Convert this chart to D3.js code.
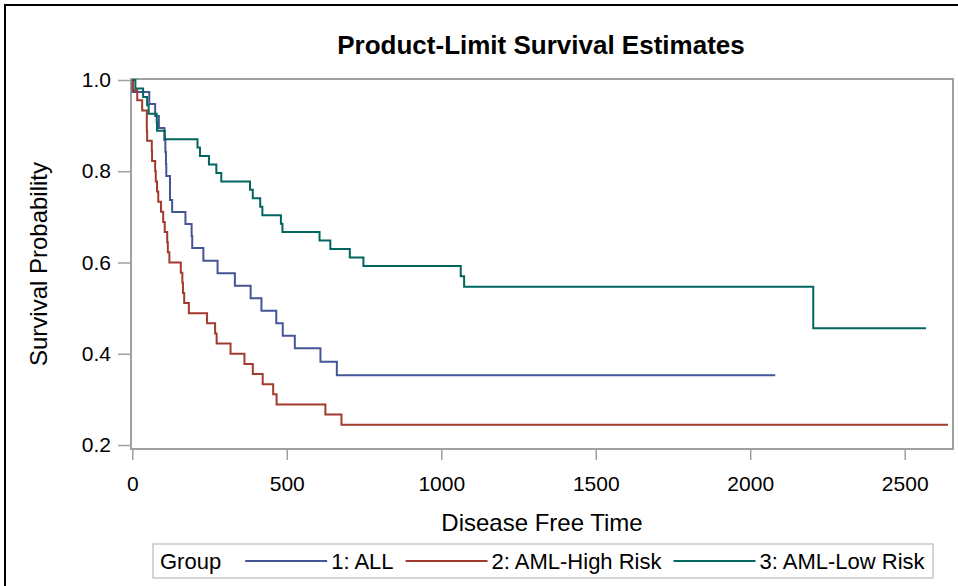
<!DOCTYPE html>
<html>
<head>
<meta charset="utf-8">
<script src="https://cdn.jsdelivr.net/npm/d3@7"></script>
<style>
  html, body { margin: 0; padding: 0; background: #fff; }
  svg { display: block; }
  text { font-family: "Liberation Sans", Arial, sans-serif; fill: #000; }
</style>
</head>
<body>
<svg id="chart" width="958" height="586"></svg>
<script>
// ---- Data (Kaplan-Meier step values) ----
const groups = ["1: ALL", "2: AML-High Risk", "3: AML-Low Risk"];
const groupColors = ["#445694", "#A23A2E", "#01665E"];

// ALL
const allTimes = [0, 1, 55, 74, 86, 104, 107, 109, 110, 122, 129, 172, 192, 194, 230, 276, 332, 383, 418, 466, 487, 526, 609, 662, 2081];
const allSurv  = [1, 0.9737, 0.9474, 0.9211, 0.8947, 0.8684, 0.8421, 0.8158, 0.7895, 0.7368, 0.7105, 0.6842, 0.6579, 0.6316, 0.6041, 0.5767, 0.5492, 0.5217, 0.4943, 0.4668, 0.4394, 0.4119, 0.3825, 0.3531, 0.3531];

// AML-High Risk
const highTimes = [0, 2, 16, 32, 47, 48, 63, 64, 74, 76, 80, 84, 93, 100, 105, 113, 115, 120, 157, 162, 164, 168, 183, 242, 268, 273, 318, 363, 390, 422, 456, 467, 625, 677, 2640];
const highSurv  = [1, 0.9778, 0.9556, 0.9333, 0.8889, 0.8667, 0.8444, 0.8222, 0.8000, 0.7778, 0.7556, 0.7333, 0.7111, 0.6889, 0.6667, 0.6444, 0.6222, 0.6000, 0.5778, 0.5556, 0.5333, 0.5111, 0.4889, 0.4667, 0.4444, 0.4222, 0.4000, 0.3778, 0.3556, 0.3333, 0.3111, 0.2889, 0.2667, 0.2444, 0.2444];

// AML-Low Risk
const lowTimes = [0, 10, 35, 48, 53, 79, 80, 105, 211, 219, 248, 272, 288, 381, 390, 414, 421, 481, 486, 606, 641, 704, 748, 1063, 1074, 2204, 2569];
const lowSurv  = [1, 0.9815, 0.9630, 0.9444, 0.9259, 0.9074, 0.8889, 0.8704, 0.8519, 0.8333, 0.8148, 0.7963, 0.7778, 0.7593, 0.7407, 0.7222, 0.7037, 0.6852, 0.6667, 0.6481, 0.6296, 0.6111, 0.5926, 0.5698, 0.5470, 0.4558, 0.4558];

const xTicks = [0, 500, 1000, 1500, 2000, 2500];
const yTicks = [0.2, 0.4, 0.6, 0.8, 1.0];

const title = "Product-Limit Survival Estimates";
const xTitle = "Disease Free Time";
const yTitle = "Survival Probability";
const legendTitle = "Group";

// ---- Layout ----
const svg = d3.select("#chart");
const frame = { left: 131, right: 953, top: 79, bottom: 449 };

const x = d3.scaleLinear().domain([0, 2500]).range([132.3, 904.7]);
const y = d3.scaleLinear().domain([0.2, 1.0]).range([445, 80]);

const gray = "#A0A0A0";
const FONT = '"Liberation Sans", Arial, sans-serif';

// outer border (left and top visible)
svg.append("rect").attr("x", 5).attr("y", 5).attr("width", 1000).attr("height", 1000)
  .attr("fill", "none").attr("stroke", "#000").attr("stroke-width", 2);

// title
svg.append("text").attr("x", 541).attr("y", 54)
  .attr("text-anchor", "middle").attr("font-weight", "bold").attr("font-size", 26)
  .text(title);

// axes
const xAxis = d3.axisBottom(x).tickValues(xTicks).tickFormat(d3.format("d")).tickSize(11).tickPadding(16);
const gx = svg.append("g").attr("transform", `translate(0,${frame.bottom})`).call(xAxis);
gx.select(".domain").remove();
gx.selectAll(".tick line").attr("stroke", gray).attr("stroke-width", 1.5);
gx.selectAll(".tick text").attr("font-size", 21).attr("fill", "#000").style("font-family", FONT);

const yAxis = d3.axisLeft(y).tickValues(yTicks).tickFormat(d3.format(".1f")).tickSize(13).tickPadding(7);
const gy = svg.append("g").attr("transform", `translate(${frame.left},0)`).call(yAxis);
gy.select(".domain").remove();
gy.selectAll(".tick line").attr("stroke", gray).attr("stroke-width", 1.5);
gy.selectAll(".tick text").attr("font-size", 21).attr("fill", "#000").style("font-family", FONT);

// plot frame
svg.append("rect").attr("x", frame.left).attr("y", frame.top)
  .attr("width", frame.right - frame.left).attr("height", frame.bottom - frame.top)
  .attr("fill", "none").attr("stroke", gray).attr("stroke-width", 2);

// axis titles
svg.append("text").attr("x", 542).attr("y", 531)
  .attr("text-anchor", "middle").attr("font-size", 24).text(xTitle);
svg.append("text").attr("transform", `translate(47,${(frame.top + frame.bottom) / 2}) rotate(-90)`)
  .attr("text-anchor", "middle").attr("font-size", 24).text(yTitle);

// curves
const series = [
  { name: groups[0], times: allTimes, surv: allSurv, color: groupColors[0] },
  { name: groups[1], times: highTimes, surv: highSurv, color: groupColors[1] },
  { name: groups[2], times: lowTimes, surv: lowSurv, color: groupColors[2] }
];
const line = d3.line().x(d => x(d[0])).y(d => y(d[1])).curve(d3.curveStepAfter);
const gCurves = svg.append("g");
series.forEach(s => {
  const pts = s.times.map((t, i) => [t, s.surv[i]]);
  gCurves.append("path").datum(pts).attr("d", line)
    .attr("fill", "none").attr("stroke", s.color).attr("stroke-width", 2);
});

// legend
const lg = svg.append("g");
const lgTop = 544, lgBottom = 578, lgLeft = 153, lgRight = 933;
lg.append("rect").attr("x", lgLeft).attr("y", lgTop).attr("width", lgRight - lgLeft).attr("height", lgBottom - lgTop)
  .attr("fill", "#fff").attr("stroke", "#C8C8C8").attr("stroke-width", 1.5);
const ly = (lgTop + lgBottom) / 2;
let cx = 160;
const t0 = lg.append("text").attr("x", cx).attr("y", ly).attr("dy", "0.35em").attr("font-size", 22).text(legendTitle);
cx += t0.node().getComputedTextLength() + 24;
series.forEach(s => {
  lg.append("line").attr("x1", cx).attr("x2", cx + 82).attr("y1", ly).attr("y2", ly)
    .attr("stroke", s.color).attr("stroke-width", 2);
  cx += 86;
  const t = lg.append("text").attr("x", cx).attr("y", ly).attr("dy", "0.35em").attr("font-size", 22).text(s.name);
  cx += t.node().getComputedTextLength() + 12;
});
</script>
</body>
</html>
